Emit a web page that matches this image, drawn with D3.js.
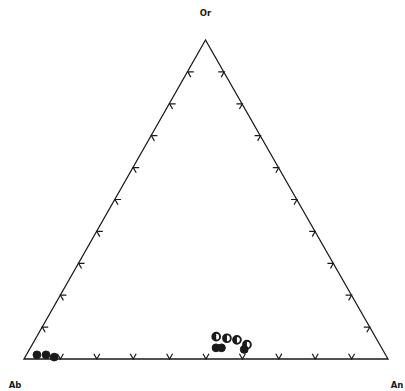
<!DOCTYPE html>
<html><head><meta charset="utf-8">
<script src="https://cdn.jsdelivr.net/npm/d3@7"></script>
<style>body{margin:0;background:#fff}svg{display:block}</style>
</head><body>
<svg id="c" width="405" height="391"></svg>
<script>
// Ternary data: Or, Ab, An (percent)
const vertexLabels = ["Or", "Ab", "An"];
const tickValues = [10, 20, 30, 40, 50, 60, 70, 80, 90];
const halfOr = [7, 6.5, 6, 4.5];
const halfAn = [49.3, 52.5, 55.5, 59];
const fullOr = [3.5, 3.5, 3, 1.3, 1.3, 0.6];
const fullAn = [51, 52.5, 59, 2.9, 5.4, 8];

const svg = d3.select("#c");
const L = {x: 24, y: 359}, R = {x: 388, y: 359}, T = {x: 205.5, y: 40};
const xs = d3.scaleLinear().domain([0, 100]).range([L.x, R.x]);
const hs = d3.scaleLinear().domain([0, 100]).range([L.y, T.y]);
function proj(or, an) { return [xs(an + or / 2), hs(or)]; }

const col = "#1a1a1a";
svg.append("path")
  .attr("d", d3.line()([[L.x, L.y], [T.x, T.y], [R.x, R.y]]) + "Z")
  .attr("fill", "none").attr("stroke", col).attr("stroke-width", 1.3);

const armLen = 6;
function vtick(p, a1, a2) {
  const r = Math.PI / 180;
  const d = d3.path();
  d.moveTo(p[0] + armLen * Math.cos(a1 * r), p[1] - armLen * Math.sin(a1 * r));
  d.lineTo(p[0], p[1]);
  d.lineTo(p[0] + armLen * Math.cos(a2 * r), p[1] - armLen * Math.sin(a2 * r));
  svg.append("path").attr("d", d.toString()).attr("fill", "none")
    .attr("stroke", col).attr("stroke-width", 1.2);
}
tickValues.forEach(v => {
  vtick(proj(0, v), 60, 120);        // bottom edge (Ab-An)
  vtick(proj(v, 0), 0, -60);         // left edge (Ab-Or)
  vtick(proj(v, 100 - v), 180, 240); // right edge (An-Or)
});

// half-filled circles
const rr = 3.9;
halfOr.forEach((o, i) => {
  const [x, y] = proj(o, halfAn[i]);
  svg.append("circle").attr("cx", x).attr("cy", y).attr("r", rr)
    .attr("fill", "#fff").attr("stroke", col).attr("stroke-width", 1.9);
  svg.append("path").attr("d", `M${x},${y - rr}A${rr},${rr} 0 0 0 ${x},${y + rr}Z`).attr("fill", col);
});
fullOr.forEach((o, i) => {
  const [x, y] = proj(o, fullAn[i]);
  svg.append("circle").attr("cx", x).attr("cy", y).attr("r", rr)
    .attr("fill", col).attr("stroke", col).attr("stroke-width", 1);
});

const lbl = [[T.x, 16], [15, 388], [397, 388]];
vertexLabels.forEach((t, i) => {
  svg.append("text").attr("x", lbl[i][0]).attr("y", lbl[i][1])
    .attr("text-anchor", "middle").attr("font-family", "DejaVu Sans, sans-serif")
    .attr("font-weight", "bold").attr("font-size", 8.5).attr("fill", col).text(t);
});
</script>
</body></html>
